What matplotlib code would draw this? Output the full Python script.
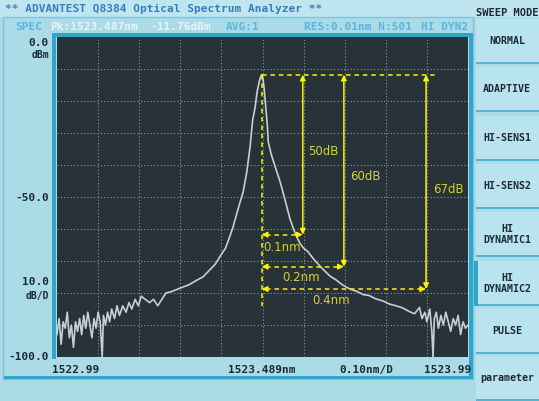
import matplotlib
matplotlib.use('Agg')
import matplotlib.pyplot as plt
from matplotlib.patches import Rectangle

# spectrum (nm, dBm)
wavelength = [
    1522.990, 1522.995, 1523.000, 1523.005, 1523.010, 1523.015, 1523.020, 1523.025,
    1523.030, 1523.035, 1523.040, 1523.045, 1523.050, 1523.055, 1523.060, 1523.065,
    1523.070, 1523.075, 1523.080, 1523.085, 1523.090, 1523.095, 1523.100, 1523.103,
    1523.108, 1523.113, 1523.118, 1523.123, 1523.130, 1523.136, 1523.142, 1523.150,
    1523.158, 1523.165, 1523.172, 1523.180, 1523.188, 1523.195, 1523.205, 1523.215,
    1523.225, 1523.235, 1523.245, 1523.255, 1523.270, 1523.289, 1523.310, 1523.330,
    1523.345, 1523.360, 1523.375, 1523.387, 1523.400, 1523.410, 1523.418, 1523.430,
    1523.443, 1523.452, 1523.460, 1523.466, 1523.472, 1523.477, 1523.482, 1523.486,
    1523.488, 1523.491, 1523.494, 1523.498, 1523.502, 1523.504, 1523.512, 1523.522,
    1523.533, 1523.545, 1523.557, 1523.570, 1523.581, 1523.590, 1523.600, 1523.615,
    1523.630, 1523.642, 1523.654, 1523.670, 1523.685, 1523.703, 1523.720, 1523.735,
    1523.750, 1523.765, 1523.783, 1523.800, 1523.815, 1523.830, 1523.849, 1523.860,
    1523.872, 1523.878, 1523.885, 1523.890, 1523.897, 1523.902, 1523.905, 1523.908,
    1523.913, 1523.918, 1523.924, 1523.930, 1523.936, 1523.942, 1523.948, 1523.954,
    1523.960, 1523.966, 1523.972, 1523.978, 1523.984, 1523.990,
]
power = [
    -93, -88, -96, -89, -91, -86, -94, -90,
    -97, -89, -92, -88, -93, -87, -91, -86,
    -90, -94, -88, -91, -86, -89, -100, -87,
    -90, -86, -89, -85, -88, -84, -87, -84,
    -86, -83, -85, -82, -84, -81, -82, -83,
    -82, -84, -82, -80, -79.5, -78.5, -77.5, -76,
    -75, -73, -71, -68.5, -66, -62.5, -59.5, -54,
    -48.4, -42, -34, -26, -22, -17, -14, -12.2,
    -11.76, -13, -16, -22, -28, -32.8, -37, -41,
    -45.3, -51, -56.9, -61.5, -64.5, -66, -67, -69.5,
    -71.6, -73.2, -74.7, -76, -77.5, -78.8, -79.5, -80.5,
    -80.8, -81.8, -82.5, -83.5, -84, -84.6, -85.9, -86.5,
    -84.5, -88, -86, -89, -85, -92, -100, -88,
    -86, -91, -87, -90, -86, -89, -92, -88,
    -90, -87, -93, -89, -91, -90,
]

peak_wl = 1523.488
peak_dbm = -11.76
widths_nm = [0.1, 0.2, 0.4]
drops_db = [50, 60, 67]
drop_labels = ['50dB', '60dB', '67dB']
width_labels = ['0.1nm', '0.2nm', '0.4nm']

x_start, x_center, x_stop = 1522.99, 1523.489, 1523.99
y_top, y_bottom = 0.0, -100.0

W, H = 539, 402
BG = '#acdbe8'
CYAN = '#2ea6cc'
DARK = '#273338'
YEL = '#fff200'
TXT_YEL = '#d6cf3a'
MONO = 'DejaVu Sans Mono'

fig = plt.figure(figsize=(W / 100, H / 100), dpi=100)
fig.patch.set_facecolor(BG)

# screen decoration layer in pixel coords
deco = fig.add_axes([0, 0, 1, 1])
deco.set_xlim(0, W)
deco.set_ylim(H, 0)
deco.axis('off')

deco.add_patch(Rectangle((0, 0), W, 18, color='#bfe6f0', lw=0))
deco.add_patch(Rectangle((3, 18), 470, 362, fc=BG, ec='#7cc6dc', lw=1))
# cyan frame around plot
deco.add_patch(Rectangle((52, 34), 420, 3.5, color=CYAN, lw=0))
deco.add_patch(Rectangle((52, 34), 4, 326, color=CYAN, lw=0))
deco.add_patch(Rectangle((469, 34), 4, 346, color=CYAN, lw=0))
deco.add_patch(Rectangle((4, 377), 469, 3, color=CYAN, lw=0))

deco.text(5, 9, '** ADVANTEST Q8384 Optical Spectrum Analyzer **', fontsize=8,
          family=MONO, weight='bold', color='#3a7cc0', va='center')
deco.text(476, 13, 'SWEEP MODE', fontsize=7.5, family=MONO, weight='bold',
          color='#1c2a36', va='center')
deco.text(15, 27, 'SPEC', fontsize=8, family=MONO, weight='bold', color='#5cb2e2', va='center')
deco.text(50, 27, 'Pk:1523.487nm', fontsize=8, family=MONO, weight='bold', color='#e6f4fa', va='center')
deco.text(150, 27, '-11.76dBm', fontsize=8, family=MONO, weight='bold', color='#e6f4fa', va='center')
deco.text(226, 27, 'AVG:1', fontsize=8, family=MONO, weight='bold', color='#5cb2e2', va='center')
deco.text(304, 27, 'RES:0.01nm N:501', fontsize=8, family=MONO, weight='bold', color='#5cb2e2', va='center')
deco.text(421, 27, 'HI DYN2', fontsize=8, family=MONO, weight='bold', color='#5cb2e2', va='center')

lab = dict(fontsize=8, family=MONO, weight='bold', color='#1c2a36', ha='right', va='center')
deco.text(49, 43, '0.0', **lab)
deco.text(49, 55, 'dBm', **dict(lab, fontsize=7))
deco.text(49, 198, '-50.0', **lab)
deco.text(49, 282, '10.0', **lab)
deco.text(49, 296, 'dB/D', **dict(lab, fontsize=7))
deco.text(49, 357, '-100.0', **lab)

bl = dict(fontsize=8, family=MONO, weight='bold', color='#1c2a36', va='center')
deco.text(52, 370, '%.2f' % x_start, ha='left', **bl)
deco.text(262, 370, '%.3fnm' % x_center, ha='center', **bl)
deco.text(366, 370, '0.10nm/D', ha='center', **bl)
deco.text(471, 370, '%.2f' % x_stop, ha='right', **bl)

# soft keys
buttons = ['NORMAL', 'ADAPTIVE', 'HI-SENS1', 'HI-SENS2', 'HI\nDYNAMIC1',
           'HI\nDYNAMIC2', 'PULSE', 'parameter']
tops = [20, 68, 117, 165, 213, 262, 310, 357]
for i, (name, t) in enumerate(zip(buttons, tops)):
    h = 45
    deco.add_patch(Rectangle((476, t), 63, h, fc='#b9e3ee', ec='none'))
    deco.add_patch(Rectangle((476, t + h - 2.5), 63, 2.5, color='#56b4d0', lw=0))
    if name == 'HI\nDYNAMIC2':
        deco.add_patch(Rectangle((474, t), 4, h, color=CYAN, lw=0))
    deco.text(507, t + h / 2 - 1, name, ha='center', va='center', fontsize=7.2,
              family=MONO, weight='bold', color='#1c2a36', linespacing=1.1)

# trace area
ax = fig.add_axes([57 / W, 1 - 358 / H, 411 / W, 320 / H])
ax.set_facecolor(DARK)
ax.set_xlim(x_start, x_stop)
ax.set_ylim(y_bottom, y_top)
for s in ax.spines.values():
    s.set_visible(False)
ax.set_xticks([x_start + 0.1 * i for i in range(1, 10)])
ax.set_yticks([-10 * i for i in range(1, 10)])
ax.tick_params(length=0, labelbottom=False, labelleft=False)
ax.grid(True, color='#8d979b', lw=0.8, ls=(0, (1, 2)))

ax.plot(wavelength, power, color='#c9ced2', lw=1.2)

# measurement markers
dkw = dict(color=YEL, lw=1.1, ls=(0, (3, 2.5)))
ax.plot([peak_wl, 1523.917], [peak_dbm, peak_dbm], **dkw)
ax.plot([peak_wl, peak_wl], [peak_dbm, -84], **dkw)
head = dict(arrowstyle='-|>', color=YEL, lw=1.1, mutation_scale=8, shrinkA=0, shrinkB=0)
for w, d in zip(widths_nm, drops_db):
    xw = peak_wl + w
    yd = peak_dbm - d
    ax.annotate('', xy=(xw, yd), xytext=(xw, peak_dbm),
                arrowprops=dict(arrowstyle='<|-|>', color=YEL, lw=1.1,
                                mutation_scale=8, shrinkA=0, shrinkB=0))
    ax.plot([peak_wl + 0.01, xw - 0.01], [yd, yd], **dkw)
    ax.annotate('', xy=(xw, yd), xytext=(xw - 0.012, yd), arrowprops=head)
    ax.annotate('', xy=(peak_wl, yd), xytext=(peak_wl + 0.012, yd), arrowprops=head)

tk = dict(color=TXT_YEL, fontsize=8.5, va='center', ha='left')
drop_pos = [(1523.601, -35.6), (1523.703, -43.4), (1523.905, -47.5)]
width_pos = [(1523.491, -65.6), (1523.537, -75.0), (1523.610, -81.9)]
for (xp, yp), t in zip(drop_pos, drop_labels):
    ax.text(xp, yp, t, **tk)
for (xp, yp), t in zip(width_pos, width_labels):
    ax.text(xp, yp, t, **tk)

fig.savefig('out.png', dpi=100, facecolor=fig.get_facecolor())
